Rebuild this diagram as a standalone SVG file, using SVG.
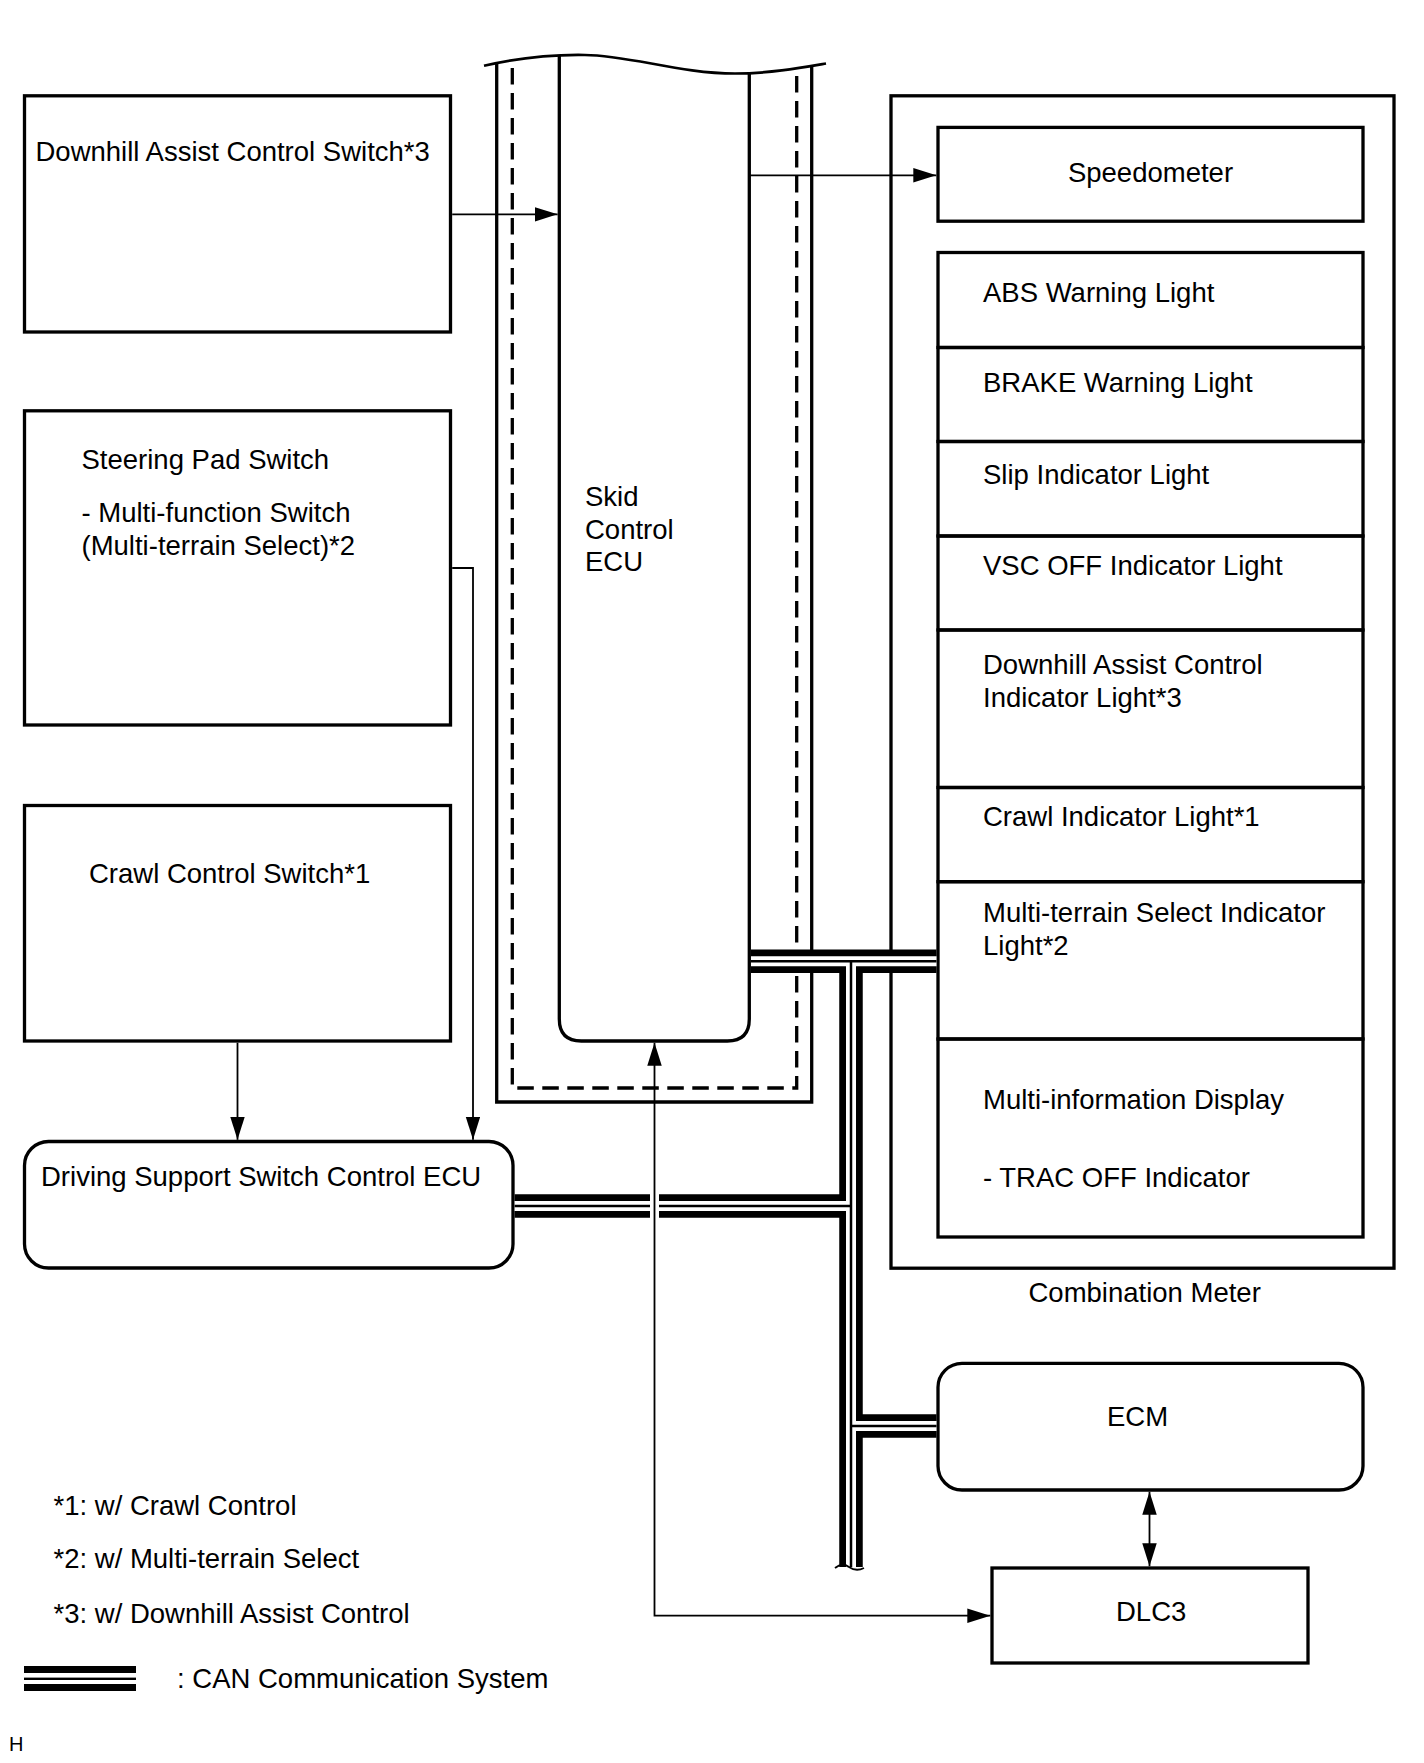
<svg xmlns="http://www.w3.org/2000/svg" width="1424" height="1763" viewBox="0 0 1424 1763">
<style>
.t{font-family:"Liberation Sans",Arial,Helvetica,sans-serif;font-size:27.5px;fill:#000}
.box{fill:none;stroke:#000;stroke-width:3.3}
.ln{fill:none;stroke:#000;stroke-width:1.8}
.dash{fill:none;stroke:#000;stroke-width:3.3;stroke-dasharray:16.5 8.5}
.canA{fill:none;stroke:#000;stroke-width:23.5}
.canB{fill:none;stroke:#fff;stroke-width:10}
.canC{fill:none;stroke:#000;stroke-width:2.5}
</style>
<defs>
<marker id="ah" markerUnits="userSpaceOnUse" markerWidth="24" markerHeight="15" refX="23" refY="7.25" orient="auto-start-reverse">
<path d="M0,0 L23,7.25 L0,14.5 z" fill="#000"/>
</marker>
</defs>
<rect width="1424" height="1763" fill="#fff"/>

<g id="skid-control-ecu">
<path class="box" d="M496.7,63.5 V1102 H811.7 V66.5"/>
<path class="dash" d="M512.3,68 V1088 H796.7 V70"/>
<path class="box" d="M559.3,56 V1019 Q559.3,1041 581.3,1041 H727.3 Q749.3,1041 749.3,1019 V73.5"/>
<path fill="none" stroke="#000" stroke-width="2.7" d="M484,65.8 C520,57.5 555,54.5 585,55 C630,55.5 680,73.5 735,73.5 C770,73.5 800,68 826,63.5"/>
<text class="t" x="585" y="506">Skid</text>
<text class="t" x="585" y="538.5">Control</text>
<text class="t" x="585" y="571">ECU</text>
</g>

<g id="downhill-assist-control-switch">
<rect class="box" x="24.5" y="95.8" width="426" height="236.2"/>
<text class="t" x="35.5" y="160.5">Downhill Assist Control Switch*3</text>
</g>

<g id="steering-pad-switch">
<rect class="box" x="24.5" y="410.8" width="426" height="314.2"/>
<text class="t" x="81.5" y="468.5">Steering Pad Switch</text>
<text class="t" x="81.5" y="522">- Multi-function Switch</text>
<text class="t" x="81.5" y="555">(Multi-terrain Select)*2</text>
</g>

<g id="crawl-control-switch">
<rect class="box" x="24.5" y="805.5" width="426" height="235.5"/>
<text class="t" x="89" y="883">Crawl Control Switch*1</text>
</g>

<g id="driving-support-switch-control-ecu">
<rect class="box" x="24.5" y="1141.5" width="488.5" height="126.5" rx="24" ry="24"/>
<text class="t" x="41" y="1186">Driving Support Switch Control ECU</text>
</g>

<g id="combination-meter">
<rect class="box" x="891" y="95.8" width="503" height="1172.4"/>
<text class="t" x="1028.5" y="1302.3">Combination Meter</text>
</g>

<g id="speedometer">
<rect class="box" x="938" y="127.4" width="425" height="93.8"/>
<text class="t" x="1150.5" y="182" text-anchor="middle">Speedometer</text>
</g>

<g id="abs-warning-light">
<rect class="box" x="938" y="252.5" width="425" height="95"/>
<text class="t" x="983" y="302">ABS Warning Light</text>
</g>
<g id="brake-warning-light">
<rect class="box" x="938" y="347.5" width="425" height="94"/>
<text class="t" x="983" y="392">BRAKE Warning Light</text>
</g>
<g id="slip-indicator-light">
<rect class="box" x="938" y="441.5" width="425" height="94.5"/>
<text class="t" x="983" y="484">Slip Indicator Light</text>
</g>
<g id="vsc-off-indicator-light">
<rect class="box" x="938" y="536" width="425" height="94"/>
<text class="t" x="983" y="575">VSC OFF Indicator Light</text>
</g>
<g id="downhill-assist-control-indicator-light">
<rect class="box" x="938" y="630" width="425" height="157.5"/>
<text class="t" x="983" y="673.5">Downhill Assist Control</text>
<text class="t" x="983" y="706.5">Indicator Light*3</text>
</g>
<g id="crawl-indicator-light">
<rect class="box" x="938" y="787.5" width="425" height="94.2"/>
<text class="t" x="983" y="826">Crawl Indicator Light*1</text>
</g>
<g id="multi-terrain-select-indicator-light">
<rect class="box" x="938" y="881.7" width="425" height="157.3"/>
<text class="t" x="983" y="922">Multi-terrain Select Indicator</text>
<text class="t" x="983" y="955">Light*2</text>
</g>
<g id="multi-information-display">
<rect class="box" x="938" y="1039" width="425" height="198"/>
<text class="t" x="983" y="1109">Multi-information Display</text>
<text class="t" x="983" y="1186.5">- TRAC OFF Indicator</text>
</g>

<g id="ecm">
<rect class="box" x="938" y="1363.3" width="425" height="126.7" rx="24" ry="24"/>
<text class="t" x="1107" y="1425.5">ECM</text>
</g>

<g id="dlc3">
<rect class="box" x="992" y="1568" width="316" height="95"/>
<text class="t" x="1116" y="1621">DLC3</text>
</g>

<g id="can-bus">
<path class="canA" d="M751,961.3 H936.5 M851,961.3 V1567 M514.6,1206 H851 M851,1426 H936.5"/>
<path class="canB" d="M751,961.3 H936.5 M851,961.3 V1567.5 M514.6,1206 H851 M851,1426 H936.5"/>
<path class="canC" d="M751,961.3 H936.5 M851,961.3 V1567.5 M514.6,1206 H851 M851,1426 H936.5"/>
<rect x="836" y="1567" width="30" height="8" fill="#fff"/>
<path fill="none" stroke="#000" stroke-width="1.8" d="M835,1568 Q842,1562 849,1567 T864,1568"/>
<rect x="650" y="1192" width="9" height="28" fill="#fff"/>
</g>

<g id="connectors">
<line class="ln" x1="452.2" y1="214.3" x2="557.6" y2="214.3" marker-end="url(#ah)"/>
<line class="ln" x1="749.3" y1="175.3" x2="936.3" y2="175.3" marker-end="url(#ah)"/>
<path class="ln" d="M452.2,568 H473 V1139.8" marker-end="url(#ah)"/>
<line class="ln" x1="237.5" y1="1042.7" x2="237.5" y2="1139.8" marker-end="url(#ah)"/>
<path class="ln" d="M654.5,1042.7 V1615.7 H990.3" marker-start="url(#ah)" marker-end="url(#ah)"/>
<line class="ln" x1="1149.5" y1="1491.7" x2="1149.5" y2="1566.3" marker-start="url(#ah)" marker-end="url(#ah)"/>
</g>

<g id="legend">
<text class="t" x="53.5" y="1515.2">*1: w/ Crawl Control</text>
<text class="t" x="53.5" y="1568">*2: w/ Multi-terrain Select</text>
<text class="t" x="53.5" y="1623">*3: w/ Downhill Assist Control</text>
<rect x="24" y="1666" width="112" height="7" fill="#000"/>
<rect x="24" y="1677.6" width="112" height="2.4" fill="#000"/>
<rect x="24" y="1684" width="112" height="7" fill="#000"/>
<text class="t" x="177" y="1687.5">: CAN Communication System</text>
<text x="9" y="1751" style="font-family:'Liberation Sans',Arial,sans-serif;font-size:20px">H</text>
</g>
</svg>
